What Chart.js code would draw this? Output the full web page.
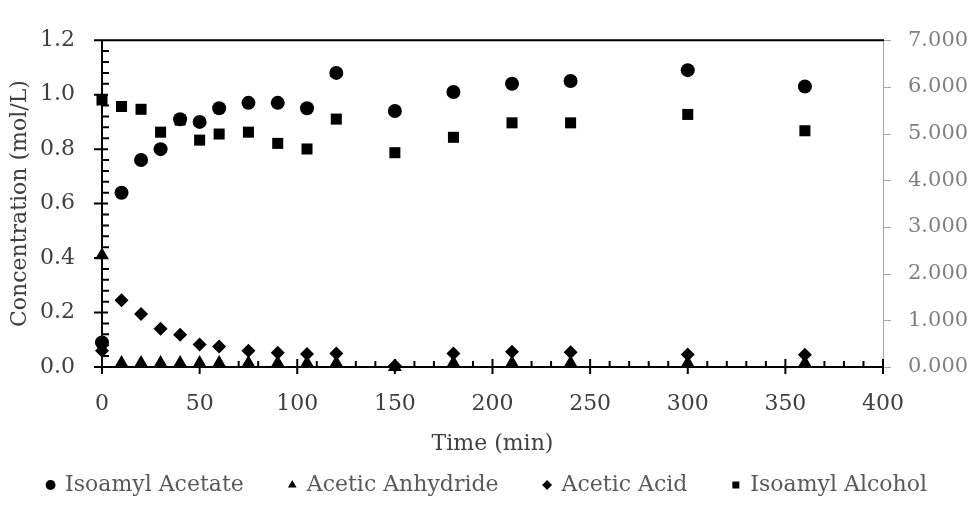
<!DOCTYPE html>
<html lang="en">
<head>
<meta charset="UTF-8">
<title>Concentration vs time</title>
<style>
  body { margin: 0; background: #ffffff; }
</style>
</head>
<body>
<canvas id="chart" width="974" height="506"></canvas>
<script src="https://cdn.jsdelivr.net/npm/chart.js"></script>
<script>
// sampling times (min)
const times = [0, 10, 20, 30, 40, 50, 60, 75, 90, 105, 120, 150, 180, 210, 240, 300, 360];

// left axis, mol/L
const isoamylAcetate = [0.09, 0.64, 0.76, 0.80, 0.91, 0.90, 0.95, 0.97, 0.97, 0.95, 1.08, 0.94, 1.01, 1.04, 1.05, 1.09, 1.03];
const aceticAnhydride = [0.41, 0.015, 0.015, 0.015, 0.015, 0.015, 0.015, 0.015, 0.015, 0.015, 0.015, 0.0, 0.015, 0.015, 0.015, 0.015, 0.015];
const aceticAcid = [0.06, 0.245, 0.195, 0.14, 0.118, 0.083, 0.075, 0.06, 0.052, 0.048, 0.05, 0.005, 0.05, 0.056, 0.054, 0.046, 0.045];

// right axis
const isoamylAlcohol = [5.72, 5.58, 5.52, 5.03, 5.29, 4.86, 4.99, 5.03, 4.79, 4.67, 5.31, 4.59, 4.92, 5.23, 5.23, 5.41, 5.06];

const leftTicks = [0, 0.2, 0.4, 0.6, 0.8, 1.0, 1.2];
const rightTicks = [0, 1, 2, 3, 4, 5, 6, 7];
const xTicks = [0, 50, 100, 150, 200, 250, 300, 350, 400];

const FONT = 'DejaVu Serif';

function points(values) {
    return times.map((t, i) => ({ x: t, y: values[i] }));
}

// axis lines plus major/minor ticks, drawn under the markers
const axisPlugin = {
    id: 'axisTicks',
    beforeDatasetsDraw(chart) {
        const { ctx, chartArea: a, scales } = chart;
        const x = scales.x, y = scales.y, y1 = scales.y1;
        ctx.save();

        // right axis: thin grey
        ctx.strokeStyle = '#a6a6a6';
        ctx.lineWidth = 1;
        ctx.beginPath();
        ctx.moveTo(a.right + 0.5, a.top);
        ctx.lineTo(a.right + 0.5, a.bottom);
        rightTicks.forEach(v => {
            const py = Math.round(y1.getPixelForValue(v)) + 0.5;
            ctx.moveTo(a.right, py);
            ctx.lineTo(a.right + 8, py);
        });
        ctx.stroke();

        ctx.strokeStyle = '#000000';
        ctx.lineWidth = 2;
        ctx.beginPath();
        // frame: top, left, bottom
        ctx.moveTo(a.left, a.top);
        ctx.lineTo(a.right + 1, a.top);
        ctx.moveTo(a.left, a.top - 1);
        ctx.lineTo(a.left, a.bottom + 1);
        ctx.moveTo(a.left - 1, a.bottom);
        ctx.lineTo(a.right + 1, a.bottom);

        // left axis majors cross, minors inside
        leftTicks.forEach(v => {
            const py = y.getPixelForValue(v);
            ctx.moveTo(a.left - 8, py);
            ctx.lineTo(a.left + 6, py);
        });
        for (let v = 0.04; v < 1.2; v += 0.04) {
            if (Math.abs(v / 0.2 - Math.round(v / 0.2)) < 1e-6) continue;
            const py = y.getPixelForValue(v);
            ctx.moveTo(a.left, py);
            ctx.lineTo(a.left + 7, py);
        }

        // bottom axis
        xTicks.forEach(v => {
            const px = x.getPixelForValue(v);
            ctx.moveTo(px, a.bottom - 8);
            ctx.lineTo(px, a.bottom + 7);
        });
        for (let v = 10; v < 400; v += 10) {
            if (v % 50 === 0) continue;
            const px = x.getPixelForValue(v);
            ctx.moveTo(px, a.bottom);
            ctx.lineTo(px, a.bottom - 6);
        }
        ctx.stroke();
        ctx.restore();
    }
};

const markerBase = {
    backgroundColor: '#000000',
    borderColor: '#000000',
    borderWidth: 0,
    showLine: false,
    clip: false
};

new Chart(document.getElementById('chart'), {
    type: 'scatter',
    data: {
        datasets: [
            { ...markerBase, label: 'Isoamyl Acetate', data: points(isoamylAcetate), pointStyle: 'circle', pointRadius: 7, yAxisID: 'y' },
            { ...markerBase, label: 'Acetic Anhydride', data: points(aceticAnhydride), pointStyle: 'triangle', pointRadius: 8, yAxisID: 'y' },
            { ...markerBase, label: 'Acetic Acid', data: points(aceticAcid), pointStyle: 'rectRot', pointRadius: 7, yAxisID: 'y' },
            { ...markerBase, label: 'Isoamyl Alcohol', data: points(isoamylAlcohol), pointStyle: 'rect', pointRadius: 7.8, yAxisID: 'y1' }
        ]
    },
    options: {
        responsive: false,
        devicePixelRatio: 1,
        animation: false,
        events: [],
        layout: { padding: 0 },
        plugins: {
            tooltip: { enabled: false },
            legend: {
                position: 'bottom',
                labels: {
                    usePointStyle: true,
                    boxWidth: 7,
                    boxHeight: 7,
                    padding: 45,
                    color: '#595959',
                    font: { family: FONT, size: 22 }
                }
            }
        },
        scales: {
            x: {
                type: 'linear',
                position: 'bottom',
                min: 0,
                max: 400,
                afterBuildTicks: s => { s.ticks = xTicks.map(v => ({ value: v })); },
                ticks: { padding: 24, color: '#404040', font: { family: FONT, size: 22 } },
                grid: { display: false, drawTicks: false },
                border: { display: false },
                title: {
                    display: true,
                    text: 'Time (min)',
                    color: '#404040',
                    font: { family: FONT, size: 22 },
                    padding: { top: 0, bottom: -28 }
                },
                afterFit: s => { s.height = 62; }
            },
            y: {
                position: 'left',
                min: 0,
                max: 1.2,
                afterBuildTicks: s => { s.ticks = leftTicks.map(v => ({ value: v })); },
                ticks: {
                    padding: 27,
                    color: '#404040',
                    font: { family: FONT, size: 22 },
                    callback: v => v.toFixed(1)
                },
                grid: { display: false, drawTicks: false },
                border: { display: false },
                title: {
                    display: true,
                    text: 'Concentration (mol/L)',
                    color: '#404040',
                    font: { family: FONT, size: 22 },
                    padding: { top: 7, bottom: 0 }
                },
                afterFit: s => { s.width = 102; }
            },
            y1: {
                position: 'right',
                min: 0,
                max: 7,
                afterBuildTicks: s => { s.ticks = rightTicks.map(v => ({ value: v })); },
                ticks: {
                    padding: 25,
                    color: '#7f7f7f',
                    font: { family: FONT, size: 21 },
                    callback: v => v.toFixed(3)
                },
                grid: { display: false, drawTicks: false },
                border: { display: false },
                afterFit: s => { s.width = 91; }
            }
        }
    },
    plugins: [axisPlugin]
});
</script>
</body>
</html>
